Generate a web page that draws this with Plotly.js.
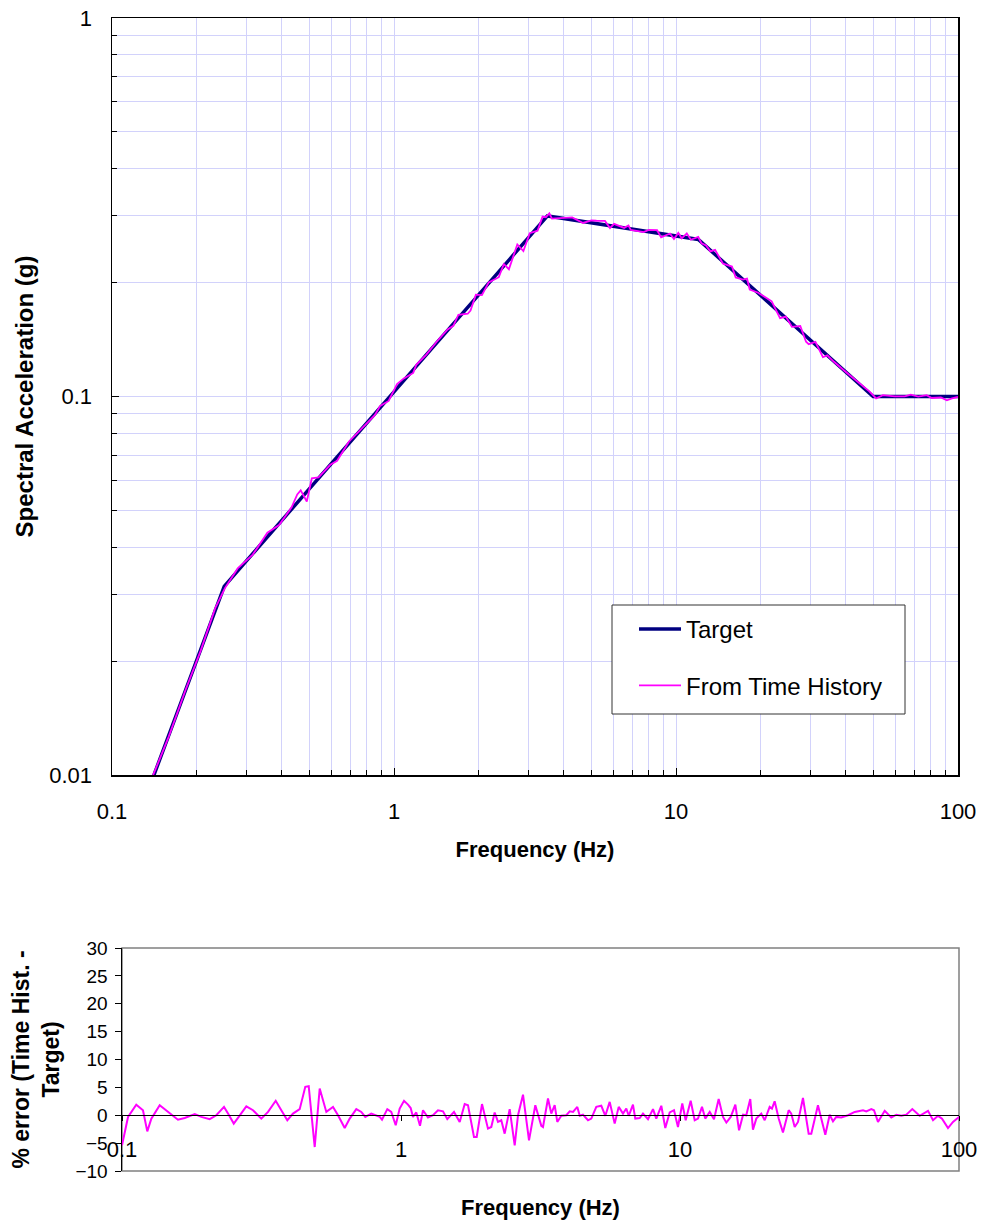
<!DOCTYPE html>
<html>
<head>
<meta charset="utf-8">
<script src="https://cdn.plot.ly/plotly-3.0.1.min.js"></script>
<style>html,body{margin:0;padding:0;background:#fff;}#chart{width:990px;height:1224px;}</style>
</head>
<body>
<div id="chart"></div>
<script>
// ---------- data ----------
const targetFreq = [0.1, 0.25, 3.5, 12, 50, 100];
const targetSa   = [0.00504, 0.0315, 0.30, 0.26, 0.10, 0.10];

const thFreq = [0.1, 0.1125, 0.1232, 0.1365, 0.1462, 0.1587, 0.1823, 0.2062, 0.2321, 0.2515,
  0.279, 0.3157, 0.3556, 0.3913, 0.4334, 0.4539, 0.4669, 0.4906, 0.5112, 0.5399,
  0.5946, 0.6284, 0.6915, 0.7825, 0.8549, 0.8932, 0.9572, 1.0252, 1.0833, 1.1697,
  1.1991, 1.3022, 1.4142, 1.5488, 1.6233, 1.6918, 1.8264, 1.8677, 1.9513, 2.0499,
  2.1664, 2.353, 2.4522, 2.5556, 2.7373, 2.8763, 3.0296, 3.228, 3.364, 3.457,
  3.555, 3.632, 3.913, 4.285, 4.68, 5.012, 5.223, 5.598, 5.833, 6.03,
  6.548, 6.783, 6.914, 7.679, 8.003, 8.57, 8.857, 9.517, 9.835, 10.19,
  10.48, 10.92, 11.29, 11.99, 12.32, 12.78, 13.24, 13.76, 14.66, 15.79,
  16.28, 17.28, 17.86, 18.26, 19.56, 20.96, 21.84, 23.39, 24.52, 25.77,
  27.59, 28.92, 29.55, 31.22, 33.18, 34.4, 36.32, 40.03, 45.29, 48.49,
  51.24, 54.16, 59.61, 64.74, 68.02, 72.29, 77.44, 80.7, 86.93, 91.32,
  95.17, 100];
const thSa = [0.00477, 0.006503, 0.007433, 0.009559, 0.010834, 0.012596, 0.016766, 0.02128, 0.02755, 0.03118,
  0.03514, 0.03823, 0.04368, 0.04576, 0.05095, 0.05509, 0.05649, 0.05281, 0.06081, 0.06115,
  0.06599, 0.06761, 0.07595, 0.08373, 0.0893, 0.09447, 0.09734, 0.1079, 0.11164, 0.11542,
  0.12126, 0.12897, 0.13932, 0.15041, 0.15377, 0.16444, 0.16543, 0.16859, 0.1858, 0.18535,
  0.20016, 0.20666, 0.22387, 0.21693, 0.25218, 0.24227, 0.27007, 0.27415, 0.2987, 0.2977,
  0.3049, 0.2951, 0.2961, 0.2974, 0.2874, 0.2921, 0.2913, 0.2909, 0.2785, 0.2859,
  0.2789, 0.2831, 0.2756, 0.2720, 0.2756, 0.2750, 0.2632, 0.2695, 0.2606, 0.2706,
  0.2618, 0.2698, 0.2595, 0.2639, 0.2539, 0.2508, 0.2418, 0.2441, 0.2245, 0.2205,
  0.2063, 0.2037, 0.2050, 0.1916, 0.1880, 0.1817, 0.1784, 0.1611, 0.1626, 0.1527,
  0.1535, 0.1395, 0.1375, 0.1395, 0.1270, 0.1284, 0.1235, 0.1161, 0.1079, 0.1032,
  0.0988, 0.1008, 0.1001, 0.1001, 0.1011, 0.0999, 0.1008, 0.0991, 0.0994, 0.0977,
  0.0988, 0.0997];

const errFreq = [0.1, 0.1051, 0.1125, 0.1189, 0.1232, 0.1274, 0.1365, 0.1462, 0.1587, 0.1678,
  0.1823, 0.1924, 0.2062, 0.2178, 0.2321, 0.2399, 0.2515, 0.262, 0.279, 0.2948,
  0.3157, 0.3337, 0.3556, 0.3724, 0.3913, 0.4101, 0.4334, 0.4539, 0.4669, 0.4906,
  0.5112, 0.5399, 0.5626, 0.5706, 0.5946, 0.6284, 0.6549, 0.6915, 0.7206, 0.7447,
  0.7825, 0.8048, 0.839, 0.8549, 0.8932, 0.923, 0.9572, 0.9892, 1.0252, 1.0595,
  1.0833, 1.104, 1.1345, 1.1697, 1.1991, 1.2495, 1.3022, 1.357, 1.4142, 1.4652,
  1.5488, 1.6233, 1.6918, 1.7384, 1.8264, 1.8677, 1.9513, 2.0499, 2.1068, 2.1664,
  2.2266, 2.288, 2.353, 2.4522, 2.5556, 2.6267, 2.7373, 2.8763, 3.0296, 3.1834,
  3.228, 3.364, 3.457, 3.555, 3.632, 3.755, 3.913, 4.025, 4.136, 4.285,
  4.371, 4.489, 4.68, 4.809, 5.012, 5.223, 5.399, 5.598, 5.833, 6.03,
  6.247, 6.42, 6.548, 6.783, 6.914, 7.17, 7.368, 7.679, 8.003, 8.222,
  8.57, 8.857, 9.186, 9.517, 9.835, 10.19, 10.48, 10.92, 11.29, 11.6,
  11.99, 12.32, 12.78, 13.24, 13.76, 14.26, 14.66, 15.2, 15.79, 16.28,
  16.83, 17.28, 17.86, 18.26, 18.77, 19.56, 20.12, 20.96, 21.36, 21.84,
  22.58, 23.39, 24.52, 25.05, 25.77, 26.48, 27.59, 28.92, 29.55, 31.22,
  32.09, 33.18, 34.4, 35.35, 36.32, 37.85, 40.03, 42.3, 45.29, 46.53,
  48.49, 49.58, 51.24, 54.16, 57.19, 59.61, 62.13, 64.74, 68.02, 72.29,
  77.44, 80.7, 84.1, 86.93, 91.32, 95.17, 100];
const errPct = [-5.4, -0.3, 1.9, 0.9, -2.9, -0.6, 1.8, 0.6, -0.8, -0.5,
  0.2, -0.3, -0.7, 0, 1.5, 0.3, -1.5, -0.3, 1.6, 0.9,
  -0.6, 0.6, 2.6, 0.9, -0.9, 0.3, 1.1, 5.1, 5.2, -5.7,
  4.8, 0.6, 1.3, 1.5, 0, -2.3, -0.6, 1.1, 0.6, -0.3,
  0.3, 0, -0.3, -0.8, 1.1, 0.6, -1.8, 1.2, 2.6, 1.9,
  1.3, -0.3, 0.5, -1.9, 0.9, -0.4, 0, 0.9, 0.7, -0.7,
  0.6, -1.2, 2.0, 1.8, -3.9, -3.9, 2.0, -2.4, -2.1, 0.5,
  -1.2, -0.9, -3.3, 1.1, -5.4, 0, 3.7, -4.5, 1.8, -1.9,
  -2.1, 3.0, 0.3, 1.8, -1.2, -0.1, 0, 0.7, 0.6, 1.5,
  -0.1, 0.1, -0.9, -0.6, 1.5, 1.7, -0.1, 2.4, -1.5, 1.5,
  0.3, 1.2, -0.1, 1.9, -0.6, -0.5, 0.3, -0.7, 1.1, -0.6,
  1.7, -2.3, 0.5, 0.9, -2.1, 2.1, -0.9, 2.6, -0.9, -0.6,
  1.5, -0.6, 0.6, -0.7, 2.9, -0.3, -1.3, -0.3, 1.9, -2.7,
  0.1, 0, 2.9, -2.6, -0.6, 0.3, -0.9, 1.5, 1.2, 2.5,
  -0.6, -3.1, 0.9, 0.3, -2.1, -1.2, 3.1, -3.3, -3.3, 1.8,
  -0.6, -3.5, 0.1, -1.1, -0.3, -0.4, 0, 0.6, 0.9, 0.7,
  1.1, 0.9, -1.2, 0.8, -0.4, 0.1, -0.1, 0.1, 1.1, -0.1,
  0.8, -0.9, -0.1, -0.6, -2.3, -1.2, -0.3];

// ---------- ticks ----------
const freqTickVals = [0.1, 1, 10, 100];
const freqTickText = ['0.1', '1', '10', '100'];
const freqMinor = [0.2, 0.3, 0.4, 0.5, 0.6, 0.7, 0.8, 0.9, 2, 3, 4, 5, 6, 7, 8, 9, 20, 30, 40, 50, 60, 70, 80, 90];
const saTickVals = [0.01, 0.1, 1];
const saTickText = ['0.01', '0.1', '1'];
const saMinor = [0.02, 0.03, 0.04, 0.05, 0.06, 0.07, 0.08, 0.09, 0.2, 0.3, 0.4, 0.5, 0.6, 0.7, 0.8, 0.9];

const FONT = 'Arial, "Liberation Sans", sans-serif';
const GRID = '#d2d2fb';
const H = 1224, W = 990;

const traces = [
  {x: targetFreq, y: targetSa, type: 'scatter', mode: 'lines', name: 'Target',
   line: {color: '#000080', width: 3.5}, xaxis: 'x', yaxis: 'y', legendgroup: 'a'},
  {x: thFreq, y: thSa, type: 'scatter', mode: 'lines', name: 'From Time History',
   line: {color: '#ff00ff', width: 1.8}, xaxis: 'x', yaxis: 'y', legendgroup: 'b'},
  {x: errFreq, y: errPct, type: 'scatter', mode: 'lines', name: '% error',
   line: {color: '#ff00ff', width: 2}, xaxis: 'x2', yaxis: 'y2', showlegend: false}
];

const layout = {
  width: W, height: H,
  margin: {l: 0, r: 0, t: 0, b: 0},
  paper_bgcolor: '#fff', plot_bgcolor: '#fff',
  font: {family: FONT, size: 22, color: '#000'},
  showlegend: true,
  legend: {
    x: 634 / W, y: 1 - 607 / H, xanchor: 'left', yanchor: 'top',
    bgcolor: 'rgba(0,0,0,0)', borderwidth: 0,
    font: {family: FONT, size: 24, color: '#000'},
    itemwidth: 42,
    traceorder: 'grouped', tracegroupgap: 22
  },
  xaxis: {
    type: 'log', domain: [112 / W, 958 / W], range: [-1, 2], anchor: 'y',
    tickmode: 'array', tickvals: freqTickVals, ticktext: freqTickText,
    ticks: 'inside', ticklen: 7, tickwidth: 1, tickcolor: '#000',
    ticklabelstandoff: 16,
    showline: true, linecolor: '#000', linewidth: 1.5, mirror: true,
    showgrid: true, gridcolor: GRID, gridwidth: 1, zeroline: false,
    minor: {tickmode: 'array', tickvals: freqMinor, ticks: 'inside', ticklen: 5, tickcolor: '#000',
            showgrid: true, gridcolor: GRID, gridwidth: 1},
    tickfont: {family: FONT, size: 22},
    title: {text: 'Frequency (Hz)', font: {family: FONT, size: 22, weight: 700}, standoff: 18},
    automargin: false, fixedrange: true
  },
  yaxis: {
    type: 'log', domain: [449 / H, 1206 / H], range: [-2, 0], anchor: 'x',
    tickmode: 'array', tickvals: saTickVals, ticktext: saTickText,
    ticks: 'inside', ticklen: 7, tickwidth: 1, tickcolor: '#000',
    ticklabelstandoff: 14,
    showline: true, linecolor: '#000', linewidth: 1.5, mirror: true,
    showgrid: true, gridcolor: GRID, gridwidth: 1, zeroline: false,
    minor: {tickmode: 'array', tickvals: saMinor, ticks: 'inside', ticklen: 5, tickcolor: '#000',
            showgrid: true, gridcolor: GRID, gridwidth: 1},
    tickfont: {family: FONT, size: 22},
    title: {text: 'Spectral Acceleration (g)', font: {family: FONT, size: 24, weight: 700}, standoff: 9},
    automargin: false, fixedrange: true
  },
  xaxis2: {
    type: 'log', domain: [122 / W, 959 / W], range: [-1, 2],
    anchor: 'free', position: 108.75 / H,
    tickmode: 'array', tickvals: freqTickVals, ticktext: freqTickText,
    ticks: 'outside', ticklen: 5, tickcolor: '#000',
    ticklabelstandoff: 9,
    showline: true, linecolor: '#000', linewidth: 1.2,
    showgrid: false, zeroline: false,
    tickfont: {family: FONT, size: 22},
    title: {text: 'Frequency (Hz)', font: {family: FONT, size: 22, weight: 700}, standoff: 38},
    automargin: false, fixedrange: true
  },
  yaxis2: {
    domain: [53 / H, 276 / H], range: [-10, 30], anchor: 'x2',
    tickmode: 'linear', tick0: 0, dtick: 5,
    ticks: 'outside', ticklen: 6, tickcolor: '#000',
    ticklabelstandoff: 3,
    showline: true, linecolor: '#000', linewidth: 1.5,
    showgrid: false, zeroline: false,
    tickfont: {family: FONT, size: 19},
    title: {text: '% error (Time Hist. -<br>Target)', font: {family: FONT, size: 23, weight: 700}, standoff: 9},
    automargin: false, fixedrange: true
  },
  shapes: [
    {type: 'rect', xref: 'x2 domain', yref: 'y2 domain', x0: 0, x1: 1, y0: 0, y1: 1,
     line: {color: '#808080', width: 1.5}, fillcolor: 'rgba(0,0,0,0)', layer: 'below'},
    {type: 'rect', xref: 'paper', yref: 'paper', x0: 612 / W, x1: 905 / W, y0: 1 - 714 / H, y1: 1 - 605 / H,
     line: {color: '#333', width: 1}, fillcolor: '#fff', layer: 'above'}
  ]
};

Plotly.newPlot('chart', traces, layout, {displayModeBar: false, staticPlot: true});
</script>
</body>
</html>
